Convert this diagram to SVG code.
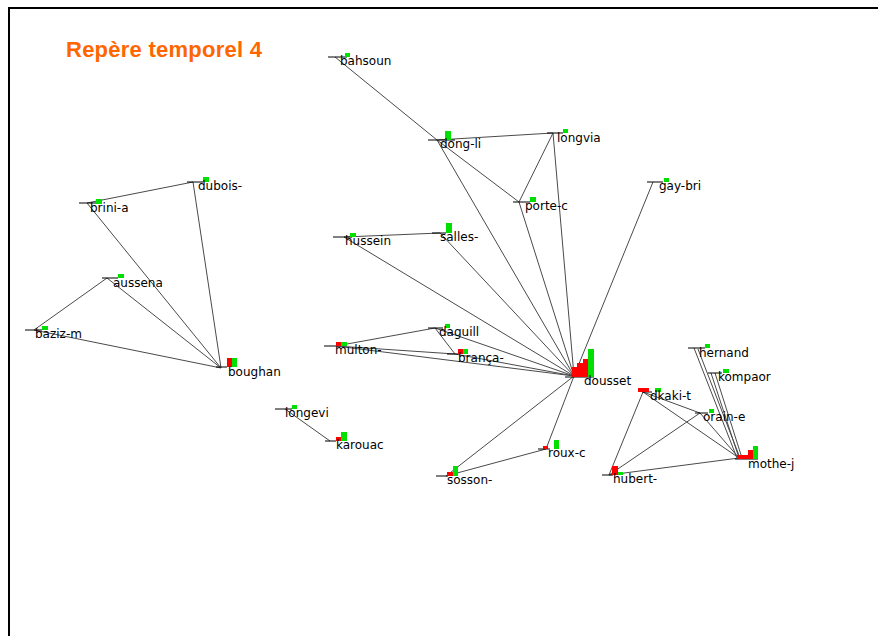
<svg xmlns="http://www.w3.org/2000/svg" width="878" height="636" viewBox="0 0 878 636">
<style>
.hl{stroke:#000;stroke-width:1}
.e{stroke:#4a4a4a;stroke-width:1;fill:none}
.lb{font-family:"DejaVu Sans",sans-serif;font-size:12px;fill:#000}
.r{fill:#ff0000}
.g{fill:#00e000}
.t{font-family:"Liberation Sans",Arial,sans-serif;font-size:22px;font-weight:bold;fill:#ff6600}
</style>
<rect width="878" height="636" fill="#fff"/>
<path d="M9,636 V8 H878" stroke="#000" stroke-width="2" fill="none"/>
<text class="t" x="66" y="57" textLength="196">Repère temporel 4</text>
<g id="connectors">
<line class="e" x1="335" y1="57" x2="437" y2="140"/>
<line class="e" x1="437" y1="140" x2="553" y2="133"/>
<line class="e" x1="437" y1="140" x2="519" y2="202"/>
<line class="e" x1="437" y1="140" x2="574" y2="376"/>
<line class="e" x1="553" y1="133" x2="519" y2="202"/>
<line class="e" x1="553" y1="133" x2="574" y2="376"/>
<line class="e" x1="519" y1="202" x2="574" y2="376"/>
<line class="e" x1="653" y1="182" x2="574" y2="376"/>
<line class="e" x1="344" y1="237" x2="440" y2="233"/>
<line class="e" x1="344" y1="237" x2="574" y2="376"/>
<line class="e" x1="440" y1="233" x2="574" y2="376"/>
<line class="e" x1="336" y1="346" x2="435" y2="328"/>
<line class="e" x1="336" y1="346" x2="455" y2="354"/>
<line class="e" x1="336" y1="346" x2="574" y2="376"/>
<line class="e" x1="435" y1="328" x2="455" y2="354"/>
<line class="e" x1="435" y1="328" x2="574" y2="376"/>
<line class="e" x1="455" y1="354" x2="574" y2="376"/>
<line class="e" x1="574" y1="376" x2="446" y2="476"/>
<line class="e" x1="574" y1="376" x2="546" y2="449"/>
<line class="e" x1="446" y1="476" x2="546" y2="449"/>
<line class="e" x1="285" y1="409" x2="330" y2="441"/>
<line class="e" x1="87" y1="203" x2="193" y2="182"/>
<line class="e" x1="87" y1="203" x2="221" y2="368"/>
<line class="e" x1="193" y1="182" x2="221" y2="368"/>
<line class="e" x1="107" y1="278" x2="34" y2="330"/>
<line class="e" x1="107" y1="278" x2="221" y2="368"/>
<line class="e" x1="34" y1="330" x2="221" y2="368"/>
<line class="e" x1="643" y1="392" x2="609" y2="475"/>
<line class="e" x1="643" y1="392" x2="700" y2="413"/>
<line class="e" x1="643" y1="392" x2="739" y2="458"/>
<line class="e" x1="700" y1="413" x2="609" y2="475"/>
<line class="e" x1="700" y1="413" x2="739" y2="458"/>
<line class="e" x1="609" y1="475" x2="739" y2="458"/>
<line class="e" x1="694" y1="348" x2="737" y2="458"/>
<line class="e" x1="698" y1="349" x2="740" y2="458"/>
<line class="e" x1="711" y1="373" x2="739" y2="458"/>
<line class="e" x1="715" y1="373" x2="742" y2="458"/>
</g>
<g id="bahsoun"><line class="hl" x1="328" y1="57" x2="347" y2="57"/><rect class="g" x="345" y="53" width="5" height="4"/><text class="lb" x="340" y="65">bahsoun</text></g>
<g id="dong-li"><line class="hl" x1="428" y1="140" x2="455" y2="140"/><rect class="g" x="445" y="131" width="6" height="9"/><text class="lb" x="440" y="148">dong-li</text></g>
<g id="longvia"><line class="hl" x1="547" y1="133" x2="563" y2="133"/><rect class="g" x="563" y="129" width="5" height="4"/><text class="lb" x="557" y="142">longvia</text></g>
<g id="porte-c"><line class="hl" x1="513" y1="202" x2="530" y2="202"/><rect class="g" x="530" y="197" width="6" height="5"/><text class="lb" x="525" y="210">porte-c</text></g>
<g id="gay-bri"><line class="hl" x1="647" y1="182" x2="663" y2="182"/><rect class="g" x="664" y="178" width="5" height="4"/><text class="lb" x="659" y="190">gay-bri</text></g>
<g id="dubois-"><line class="hl" x1="187" y1="182" x2="203" y2="182"/><rect class="g" x="203" y="177" width="6" height="5"/><text class="lb" x="198" y="190">dubois-</text></g>
<g id="brini-a"><line class="hl" x1="79" y1="203" x2="97" y2="203"/><rect class="g" x="96" y="199" width="6" height="5"/><text class="lb" x="90" y="212">brini-a</text></g>
<g id="aussena"><line class="hl" x1="102" y1="278" x2="118" y2="278"/><rect class="g" x="118" y="274" width="6" height="4"/><text class="lb" x="113" y="287">aussena</text></g>
<g id="baziz-m"><line class="hl" x1="25" y1="330" x2="42" y2="330"/><rect class="g" x="42" y="326" width="6" height="4"/><text class="lb" x="35" y="338">baziz-m</text></g>
<g id="boughan"><line class="hl" x1="216" y1="367" x2="227" y2="367"/><rect class="r" x="227" y="358" width="5" height="9"/><rect class="g" x="232" y="358" width="5" height="9"/><text class="lb" x="228" y="376">boughan</text></g>
<g id="hussein"><line class="hl" x1="333" y1="237" x2="352" y2="237"/><rect class="g" x="350" y="233" width="6" height="4"/><text class="lb" x="345" y="245">hussein</text></g>
<g id="salles-"><line class="hl" x1="432" y1="233" x2="446" y2="233"/><rect class="g" x="446" y="223" width="6" height="10"/><text class="lb" x="440" y="241">salles-</text></g>
<g id="daguill"><line class="hl" x1="428" y1="328" x2="443" y2="328"/><rect class="g" x="445" y="324" width="5" height="4"/><text class="lb" x="439" y="336">daguill</text></g>
<g id="multon-"><line class="hl" x1="324" y1="346" x2="338" y2="346"/><rect class="r" x="336" y="342" width="5" height="4"/><rect class="g" x="341" y="342" width="6" height="4"/><text class="lb" x="335" y="354">multon-</text></g>
<g id="branca-"><line class="hl" x1="447" y1="354" x2="458" y2="354"/><rect class="r" x="458" y="349" width="5" height="5"/><rect class="g" x="463" y="349" width="5" height="5"/><text class="lb" x="458" y="362">brança-</text></g>
<g id="dousset"><line class="hl" x1="565" y1="377" x2="594" y2="377"/><rect class="r" x="572" y="367" width="5" height="10"/><rect class="r" x="577" y="363" width="6" height="14"/><rect class="r" x="583" y="359" width="5" height="18"/><rect class="g" x="588" y="349" width="6" height="28"/><text class="lb" x="584" y="385">dousset</text></g>
<g id="hernand"><line class="hl" x1="688" y1="348" x2="705" y2="348"/><rect class="g" x="705" y="344" width="5" height="4"/><text class="lb" x="699" y="357">hernand</text></g>
<g id="kompaor"><line class="hl" x1="708" y1="373" x2="722" y2="373"/><rect class="g" x="723" y="369" width="6" height="4"/><text class="lb" x="718" y="381">kompaor</text></g>
<g id="dkaki-t"><line class="hl" x1="642" y1="392" x2="652" y2="392"/><rect class="r" x="638" y="388" width="6" height="4"/><rect class="r" x="644" y="388" width="5" height="4"/><rect class="g" x="655" y="388" width="6" height="4"/><text class="lb" x="650" y="400">dkaki-t</text></g>
<g id="orain-e"><line class="hl" x1="695" y1="413" x2="708" y2="413"/><rect class="g" x="709" y="409" width="5" height="4"/><text class="lb" x="703" y="421">orain-e</text></g>
<g id="mothe-j"><line class="hl" x1="735" y1="459" x2="758" y2="459"/><rect class="r" x="737" y="455" width="5" height="4"/><rect class="r" x="742" y="455" width="6" height="4"/><rect class="r" x="748" y="450" width="5" height="9"/><rect class="g" x="753" y="446" width="5" height="13"/><text class="lb" x="748" y="468">mothe-j</text></g>
<g id="hubert-"><line class="hl" x1="602" y1="475" x2="613" y2="475"/><rect class="r" x="612" y="466" width="6" height="9"/><rect class="g" x="618" y="472" width="5" height="3"/><text class="lb" x="613" y="483">hubert-</text></g>
<g id="longevi"><line class="hl" x1="275" y1="409" x2="292" y2="409"/><rect class="g" x="292" y="405" width="5" height="4"/><text class="lb" x="285" y="417">longevi</text></g>
<g id="karouac"><line class="hl" x1="325" y1="441" x2="336" y2="441"/><rect class="r" x="336" y="437" width="5" height="4"/><rect class="g" x="341" y="432" width="6" height="9"/><text class="lb" x="336" y="449">karouac</text></g>
<g id="sosson-"><line class="hl" x1="436" y1="476" x2="448" y2="476"/><rect class="r" x="447" y="472" width="6" height="4"/><rect class="g" x="453" y="466" width="5" height="10"/><text class="lb" x="447" y="484">sosson-</text></g>
<g id="roux-c"><line class="hl" x1="538" y1="449" x2="550" y2="449"/><rect class="r" x="543" y="446" width="5" height="3"/><rect class="g" x="554" y="440" width="5" height="9"/><text class="lb" x="548" y="457">roux-c</text></g>
</svg>
